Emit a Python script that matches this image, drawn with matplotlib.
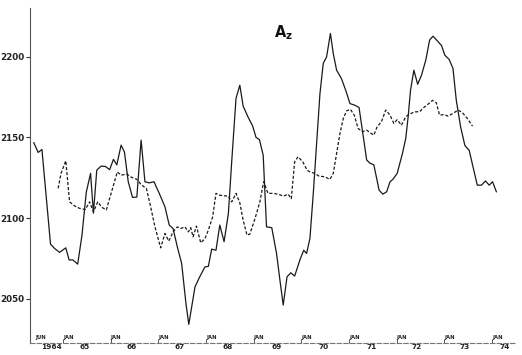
import matplotlib.pyplot as plt
import matplotlib.transforms as mtransforms

# solid curve: (decimal year, value)
solid_t = [1964.39, 1964.48, 1964.56, 1964.74, 1964.83, 1964.93, 1965.06, 1965.13, 1965.21, 1965.31,
           1965.40, 1965.49, 1965.58, 1965.64, 1965.71, 1965.80, 1965.89, 1965.98, 1966.06, 1966.13,
           1966.22, 1966.29, 1966.37, 1966.46, 1966.55, 1966.64, 1966.72, 1966.81, 1966.91, 1967.02,
           1967.14, 1967.23, 1967.31, 1967.40, 1967.49, 1967.58, 1967.64, 1967.77, 1967.87, 1967.98,
           1968.05, 1968.12, 1968.21, 1968.29, 1968.38, 1968.47, 1968.54, 1968.63, 1968.71, 1968.78,
           1968.88, 1968.98, 1969.05, 1969.12, 1969.20, 1969.27, 1969.38, 1969.48, 1969.56, 1969.62,
           1969.70, 1969.78, 1969.86, 1969.97, 1970.05, 1970.11, 1970.18, 1970.25, 1970.32, 1970.39,
           1970.46, 1970.53, 1970.61, 1970.67, 1970.74, 1970.84, 1970.93, 1971.02, 1971.12, 1971.21,
           1971.28, 1971.37, 1971.44, 1971.52, 1971.58, 1971.63, 1971.71, 1971.79, 1971.86, 1971.92,
           1972.01, 1972.12, 1972.19, 1972.24, 1972.29, 1972.36, 1972.44, 1972.52, 1972.61, 1972.69,
           1972.76, 1972.85, 1972.94, 1973.01, 1973.10, 1973.18, 1973.25, 1973.34, 1973.43, 1973.52,
           1973.60, 1973.69, 1973.78, 1973.86, 1973.94, 1974.01, 1974.09]
solid_v = [2146.7, 2140.7, 2142.5, 2083.8, 2081.0, 2078.7, 2081.5, 2074.0, 2074.0, 2071.4,
           2089.4, 2116.0, 2127.7, 2103.0, 2129.7, 2132.2, 2132.0, 2130.0, 2136.4, 2133.0,
           2145.2, 2141.0, 2122.5, 2112.8, 2113.0, 2148.3, 2122.5, 2121.8, 2122.5, 2115.3,
           2107.0, 2095.6, 2093.5, 2082.0, 2071.8, 2047.0, 2034.0, 2057.3, 2063.6, 2069.7,
           2070.0, 2080.7, 2080.0, 2095.6, 2085.3, 2102.8, 2135.0, 2174.2, 2182.4, 2169.4,
           2162.8, 2157.0, 2150.0, 2148.7, 2139.0, 2094.5, 2094.0, 2078.0, 2059.4, 2046.0,
           2063.5, 2066.0, 2064.0, 2074.0, 2080.0, 2078.0, 2087.3, 2115.0, 2146.0, 2177.0,
           2196.0, 2200.0, 2214.5, 2202.0, 2191.7, 2186.6, 2179.3, 2171.0, 2170.0, 2168.6,
           2154.5, 2136.0, 2134.0, 2133.0, 2124.6, 2117.3, 2114.8, 2116.3, 2122.5, 2124.0,
           2127.7, 2140.0, 2149.4, 2162.8, 2179.3, 2191.7, 2183.0, 2188.6, 2198.0, 2210.4,
           2212.8, 2210.0, 2207.0, 2201.0, 2198.4, 2192.8, 2173.0, 2156.6, 2145.0, 2142.0,
           2131.8, 2120.4, 2120.4, 2123.0, 2120.4, 2122.5, 2116.3]

# dashed curve
dash_t = [1964.90, 1964.96, 1965.06, 1965.14, 1965.25, 1965.35, 1965.47, 1965.56, 1965.64, 1965.73,
          1965.82, 1965.91, 1966.00, 1966.07, 1966.14, 1966.22, 1966.34, 1966.44, 1966.55, 1966.65,
          1966.75, 1966.84, 1966.93, 1967.05, 1967.14, 1967.22, 1967.31, 1967.40, 1967.47, 1967.56,
          1967.63, 1967.68, 1967.73, 1967.80, 1967.89, 1967.98, 1968.05, 1968.14, 1968.21, 1968.28,
          1968.38, 1968.47, 1968.54, 1968.63, 1968.71, 1968.78, 1968.86, 1968.92, 1969.03, 1969.13,
          1969.21, 1969.30, 1969.41, 1969.51, 1969.63, 1969.72, 1969.79, 1969.86, 1969.93, 1970.03,
          1970.12, 1970.18, 1970.28, 1970.37, 1970.49, 1970.60, 1970.67, 1970.74, 1970.81, 1970.88,
          1970.95, 1971.03, 1971.11, 1971.19, 1971.28, 1971.37, 1971.45, 1971.52, 1971.59, 1971.68,
          1971.77, 1971.86, 1971.94, 1972.01, 1972.10, 1972.19, 1972.27, 1972.38, 1972.48, 1972.57,
          1972.66, 1972.75, 1972.83, 1972.90, 1972.99, 1973.08, 1973.18, 1973.29, 1973.38, 1973.48,
          1973.59]
dash_v = [2118.4, 2127.7, 2135.5, 2110.0, 2107.4, 2106.0, 2105.3, 2110.0, 2103.8, 2110.0,
          2106.6, 2105.0, 2114.2, 2121.4, 2128.6, 2126.6, 2127.3, 2125.2, 2124.0, 2120.4,
          2118.4, 2107.0, 2094.5, 2081.5, 2090.4, 2085.7, 2091.4, 2094.5, 2093.5, 2094.5,
          2091.4, 2094.0, 2088.3, 2095.0, 2084.6, 2087.3, 2092.5, 2100.7, 2115.3, 2114.2,
          2113.8, 2113.6, 2110.0, 2115.3, 2109.4, 2098.7, 2089.4, 2090.0, 2099.8, 2110.0,
          2122.5, 2115.3, 2115.3, 2114.8, 2113.6, 2114.8, 2112.0, 2134.9, 2138.0, 2134.9,
          2129.7, 2128.6, 2127.7, 2126.0, 2125.6, 2124.0, 2127.7, 2140.0, 2152.5, 2161.8,
          2166.5, 2167.4, 2163.8, 2155.6, 2153.5, 2154.5, 2152.8, 2151.4, 2156.6, 2159.7,
          2167.0, 2163.8, 2158.7, 2161.0, 2157.6, 2162.8, 2164.5, 2165.9, 2165.9, 2168.6,
          2170.7, 2173.0, 2171.5, 2163.8, 2164.2, 2163.2, 2164.9, 2167.0, 2165.3, 2161.8,
          2157.0]

y_ticks = [2050, 2100, 2150, 2200]
jan_years = list(range(1965, 1975))
year_labels = ['1964', '65', '66', '67', '68', '69', '70', '71', '72', '73', '74']
year_label_x = [1964.77, 1965.46, 1966.45, 1967.45, 1968.46, 1969.49,
                1970.47, 1971.48, 1972.42, 1973.43, 1974.27]

fig = plt.figure(figsize=(5.22, 3.55), dpi=100)
ax = fig.add_axes([0.0575, 0.034, 0.929, 0.943])

ax.plot(solid_t, solid_v, color='#1a1a1a', lw=0.9)
ax.plot(dash_t, dash_v, color='#1a1a1a', lw=0.9, linestyle=(0, (2.5, 1.5)))

ax.set_xlim(1964.31, 1974.48)
ax.set_ylim(2022.5, 2230.2)

for s in ['top', 'right']:
    ax.spines[s].set_visible(False)
ax.spines['left'].set_color('#555555')
ax.spines['left'].set_linewidth(0.8)
ax.spines['left'].set_linestyle((0, (3, 1)))
ax.spines['bottom'].set_color('#777777')
ax.spines['bottom'].set_linewidth(0.8)
ax.spines['bottom'].set_linestyle((0, (4, 2)))

ax.set_yticks(y_ticks)
ax.set_yticklabels([str(v) for v in y_ticks], fontsize=6.3, fontweight='bold', color='#222222')
ax.tick_params(axis='y', direction='out', length=3, width=0.8, pad=1, color='#333333')

ax.set_xticks(jan_years)
ax.set_xticklabels([])
ax.tick_params(axis='x', direction='in', length=3, width=0.7, color='#555555')

trans = mtransforms.blended_transform_factory(ax.transData, ax.transAxes)
ax.text(1964.42, 0.015, 'JUN', transform=trans, fontsize=3.8, fontweight='bold',
        ha='left', va='center', color='#222222')
for yr in jan_years:
    ax.text(yr, 0.015, 'JAN', transform=trans, fontsize=3.8, fontweight='bold',
            ha='left', va='center', color='#222222')
for xp, lab in zip(year_label_x, year_labels):
    ax.text(xp, -0.004, lab, transform=trans, fontsize=5.3, fontweight='bold',
            ha='center', va='top', color='#222222')

ax.text(0.522, 0.926, r'$\mathbf{A_z}$', transform=ax.transAxes, fontsize=10.5,
        ha='center', va='center', color='#111111')

fig.savefig('out.png', dpi=100)
